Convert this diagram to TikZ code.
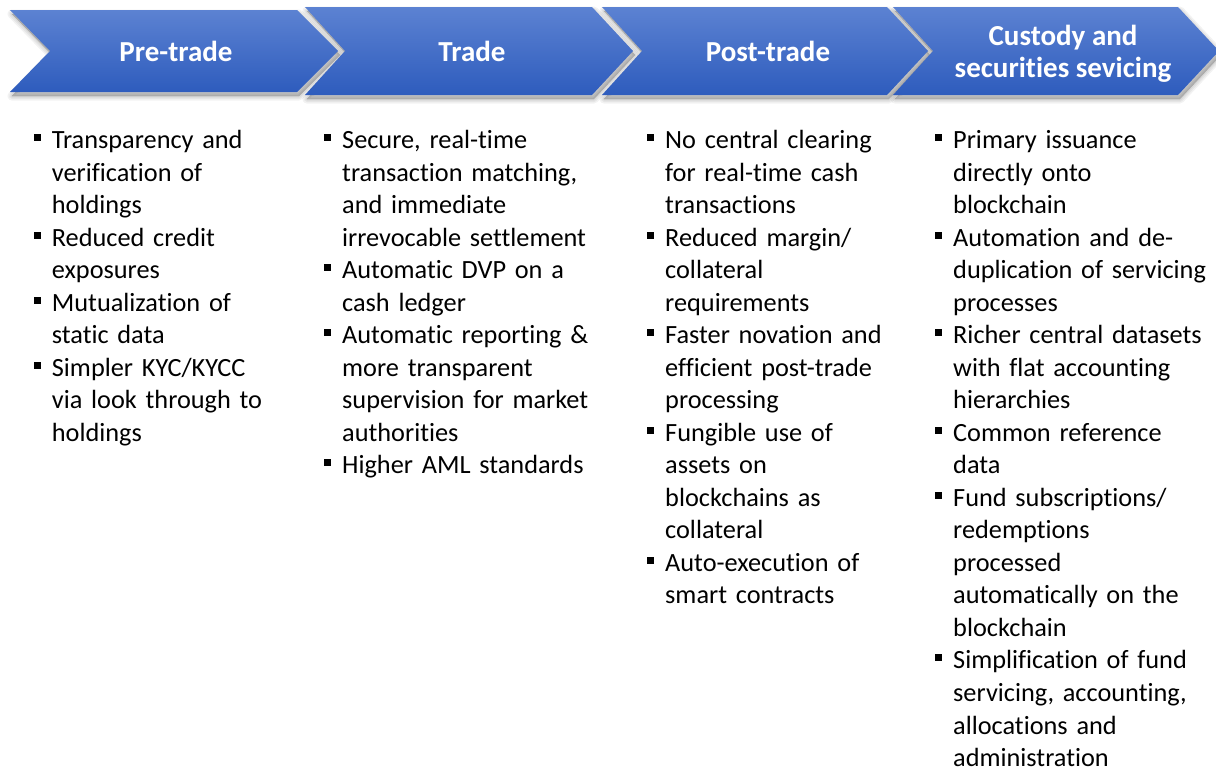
\documentclass[tikz,border=0pt]{standalone}
\usepackage{fontspec}
\setmainfont{Carlito}[Ligatures={NoCommon,NoContextual}]
\definecolor{chevtop}{HTML}{5C82D2}
\definecolor{chevbot}{HTML}{2E5CBD}
% bullet square hanging to the left of the item text
\newcommand\bitem{\leavevmode\llap{\raisebox{7.5pt}{\rule{7pt}{7pt}}\hspace{11pt}}}
\begin{document}
\begin{tikzpicture}[x=1pt,y=-1pt,
  stage/.style={top color=chevtop, bottom color=chevbot, draw=none},
  stageshadow/.style={draw=black, fill=black, opacity=0.05, line join=round},
  heading/.style={text=white, inner sep=0pt, align=center,
    font={\fontsize{29}{32}\selectfont\bfseries}},
  items/.style={anchor=north west, inner sep=0pt, text width=300pt, align=left,
    font={\fontsize{26.3}{32.53}\selectfont}},
]
\useasboundingbox (0,0) rectangle (1216,771);
\fill[white] (0,0) rectangle (1216,771);

% soft shadows under the four process chevrons
\foreach \xl/\yt/\yb/\xr in {10/10/92/297, 305/7/95/592, 602/7/95/887, 893/7/95/1178} {
  \pgfmathsetmacro\ym{(\yt+\yb)/2}
  \foreach \w in {9,6,3,0.5} {
    \path[stageshadow, line width=\w pt, shift={(2,4)}]
      (\xl,\yt) -- (\xr,\yt) -- ({\xr+41},\ym) -- (\xr,\yb) -- (\xl,\yb) -- ({\xl+40},\ym) -- cycle;
  }
}
% the chevrons themselves
\foreach \xl/\yt/\yb/\xr in {10/10/92/297, 305/7/95/592, 602/7/95/887, 893/7/95/1178} {
  \pgfmathsetmacro\ym{(\yt+\yb)/2}
  \path[stage]
    (\xl,\yt) -- (\xr,\yt) -- ({\xr+41},\ym) -- (\xr,\yb) -- (\xl,\yb) -- ({\xl+40},\ym) -- cycle;
}

\node[heading] (h1) at (176,51) {Pre-trade};
\node[heading] (h2) at (472,51) {Trade};
\node[heading] (h3) at (768,51) {Post-trade};
\node[heading] (h4) at (1063,54) {Custody and\\securities sevicing};

\node[items] (c1) at (51.7,125.5) {\strut\bitem Transparency and\\
verification of\\
holdings\\
\bitem Reduced credit\\
exposures\\
\bitem Mutualization of\\
static data\\
\bitem Simpler KYC/KYCC\\
via look through to\\
holdings};

\node[items] (c2) at (342,125.5) {\strut\bitem Secure, real-time\\
transaction matching,\\
and immediate\\
irrevocable settlement\\
\bitem Automatic DVP on a\\
cash ledger\\
\bitem Automatic reporting \&\\
more transparent\\
supervision for market\\
authorities\\
\bitem Higher AML standards};

\node[items] (c3) at (665,125.5) {\strut\bitem No central clearing\\
for real-time cash\\
transactions\\
\bitem Reduced margin/\\
collateral\\
requirements\\
\bitem Faster novation and\\
efficient post-trade\\
processing\\
\bitem Fungible use of\\
assets on\\
blockchains as\\
collateral\\
\bitem Auto-execution of\\
smart contracts};

\node[items] (c4) at (953,125.5) {\strut\bitem Primary issuance\\
directly onto\\
blockchain\\
\bitem Automation and de-\\
duplication of servicing\\
processes\\
\bitem Richer central datasets\\
with flat accounting\\
hierarchies\\
\bitem Common reference\\
data\\
\bitem Fund subscriptions/\\
redemptions\\
processed\\
automatically on the\\
blockchain\\
\bitem Simplification of fund\\
servicing, accounting,\\
allocations and\\
administration};
\end{tikzpicture}
\end{document}
